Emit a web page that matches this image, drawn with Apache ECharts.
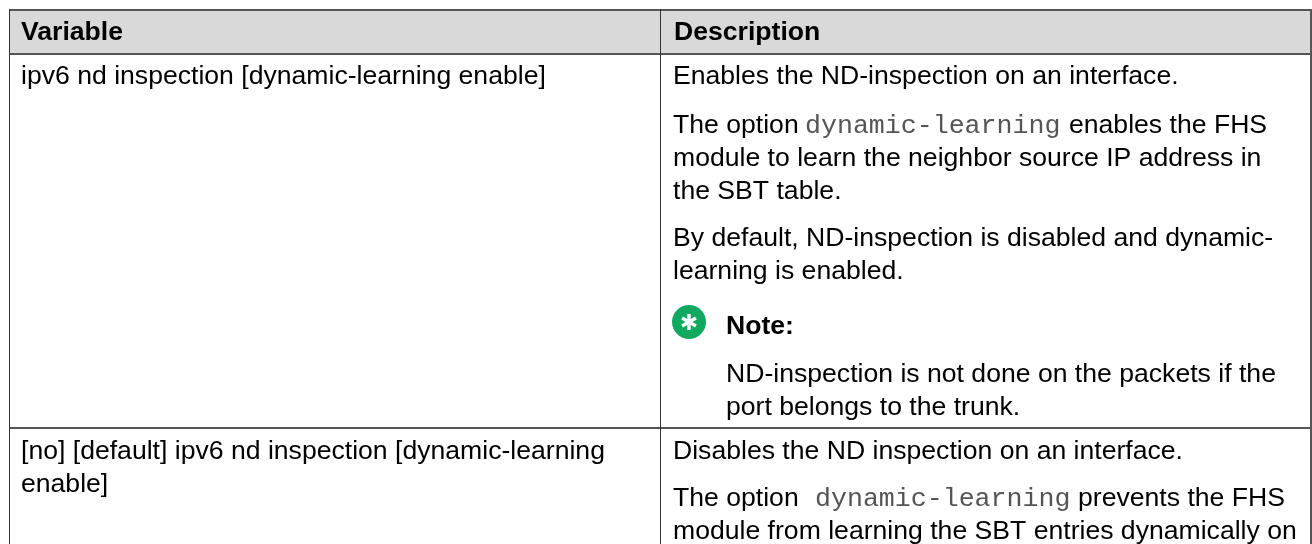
<!DOCTYPE html>
<html><head><meta charset="utf-8">
<style>html,body{margin:0;padding:0;background:#fff}#c{width:1312px;height:544px}</style>
<script src="https://cdn.jsdelivr.net/npm/echarts@6/dist/echarts.min.js"></script>
</head><body><div id="c"></div>
<script>
const headers = ["Variable", "Description"];
const variableRow1 = ["ipv6 nd inspection [dynamic-learning enable]"];
const variableRow2 = ["[no] [default] ipv6 nd inspection [dynamic-learning", "enable]"];
const descRow1 = ["Enables the ND-inspection on an interface.", "The option", "dynamic-learning", "enables the FHS",
  "module to learn the neighbor source IP address in", "the SBT table.",
  "By default, ND-inspection is disabled and dynamic-", "learning is enabled."];
const noteLabel = "Note:";
const noteLines = ["ND-inspection is not done on the packets if the", "port belongs to the trunk."];
const descRow2 = ["Disables the ND inspection on an interface.", "The option", "dynamic-learning", "prevents the FHS",
  "module from learning the SBT entries dynamically on"];

const chart = echarts.init(document.getElementById('c'), null, {renderer:'canvas'});
const SANS = '"Liberation Sans", Arial, sans-serif';
const MONO = '"Liberation Mono", monospace';
const SIZE = 26.6;
const DY = 2;
const g = [];
const txt = (s,x,y,o={}) => g.push({type:'text',x,y:y+DY,z:5,style:{text:s,fill:o.fill||'#000',font:`${o.w||'normal'} ${SIZE}px ${o.fam||SANS}`,verticalAlign:'middle',align:'left'}});
const rect = (x,y,w,h,fill) => g.push({type:'rect',shape:{x,y,width:w,height:h},style:{fill},z:2});
rect(9,10,1302,44,'#d9d9d9');
rect(9,9,1302,2,'#555');
rect(9,53,1302,2,'#555');
rect(9,427,1302,2,'#555');
rect(9,9,1,535,'#333');
rect(660,9,1,535,'#333');
rect(1310,9,2,535,'#555');

txt(headers[0],21,31,{w:'bold'});
txt(headers[1],674,31,{w:'bold'});
txt(variableRow1[0],21,75);
txt(variableRow2[0],21,450);
txt(variableRow2[1],21,483);

txt(descRow1[0],673,75);
txt(descRow1[1],673,124);
txt(descRow1[2],805,124,{fam:MONO,fill:'#555'});
txt(descRow1[3],1069,124);
txt(descRow1[4],673,157);
txt(descRow1[5],673,190);
txt(descRow1[6],673,237);
txt(descRow1[7],673,270);

g.push({type:'circle',shape:{cx:689,cy:322,r:17},style:{fill:'#11a85f'},z:3});
[30,90,150].forEach(a=>g.push({type:'rect',x:689,y:322,rotation:a*Math.PI/180,shape:{x:-8,y:-1.7,width:16,height:3.4},style:{fill:'#fff'},z:4}));
txt(noteLabel,726,325,{w:'bold'});
txt(noteLines[0],726,373);
txt(noteLines[1],726,406);

txt(descRow2[0],673,450);
txt(descRow2[1],673,497);
txt(descRow2[2],815,497,{fam:MONO,fill:'#555'});
txt(descRow2[3],1078,497);
txt(descRow2[4],673,530);
chart.setOption({animation:false,graphic:{elements:g}});
</script></body></html>
